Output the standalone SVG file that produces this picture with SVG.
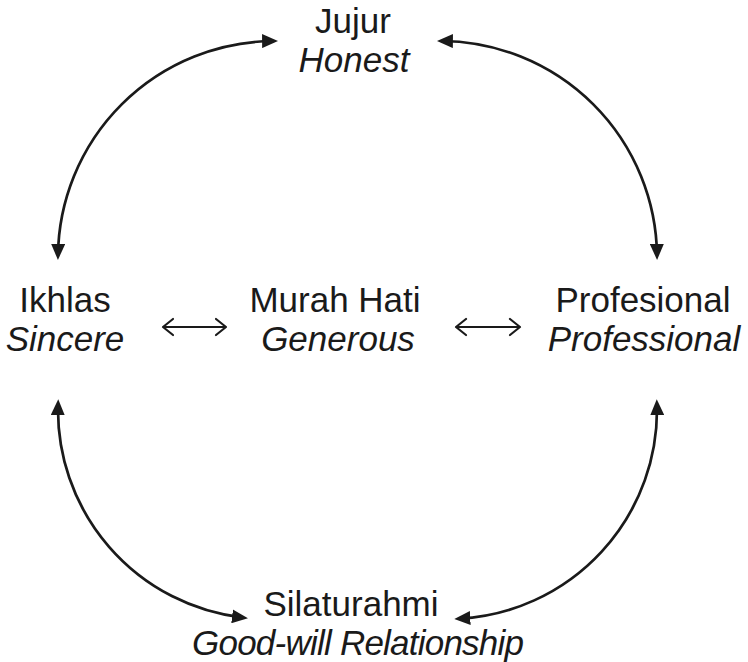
<svg xmlns="http://www.w3.org/2000/svg" width="748" height="662" viewBox="0 0 748 662">
  <style>
    .lbl { font-family: "Liberation Sans", Arial, sans-serif; font-size: 35px; fill: #1a1a1a; text-anchor: middle; }
    .it { font-style: italic; }
    .arc { fill: none; stroke: #1a1a1a; stroke-width: 2.7; marker-start: url(#ah); marker-end: url(#ah); }
    .dbl { fill: none; stroke: #1a1a1a; stroke-width: 2.2; stroke-linecap: round; stroke-linejoin: round; }
  </style>
  <defs>
    <marker id="ah" markerUnits="userSpaceOnUse" markerWidth="16" markerHeight="14" viewBox="0 0 16 14" refX="11" refY="7" orient="auto-start-reverse">
      <path d="M0,0 L16,7 L0,14 z" fill="#1a1a1a"/>
    </marker>
  </defs>
  <rect width="748" height="662" fill="#ffffff"/>

  <g id="connectors">
    <path class="arc" d="M58,255 A217,217 0 0 1 273.1,41"/>
    <path class="arc" d="M441.9,41 A217,217 0 0 1 657,255"/>
    <path class="arc" d="M656.9,404.2 A209,209 0 0 1 459.3,618.7"/>
    <path class="arc" d="M243,617.6 A209,209 0 0 1 58.1,404.2"/>
    <g id="link-ikhlas-murah">
      <path class="dbl" d="M163,327 H226 M173,319 L163,327 L173,335 M216,319 L226,327 L216,335"/>
    </g>
    <g id="link-murah-profesional">
      <path class="dbl" d="M456,327 H520 M466,319 L456,327 L466,335 M510,319 L520,327 L510,335"/>
    </g>
  </g>

  <g id="node-jujur">
    <text class="lbl" x="353" y="33">Jujur</text>
    <text class="lbl it" x="354" y="72">Honest</text>
  </g>
  <g id="node-ikhlas">
    <text class="lbl" x="65" y="312">Ikhlas</text>
    <text class="lbl it" x="65" y="351">Sincere</text>
  </g>
  <g id="node-murah-hati">
    <text class="lbl" x="335" y="312">Murah Hati</text>
    <text class="lbl it" x="338" y="351">Generous</text>
  </g>
  <g id="node-profesional">
    <text class="lbl" x="643" y="312">Profesional</text>
    <text class="lbl it" x="644" y="351">Professional</text>
  </g>
  <g id="node-silaturahmi">
    <text class="lbl" x="351" y="616">Silaturahmi</text>
    <text class="lbl it" x="358" y="655" textLength="332" lengthAdjust="spacing">Good-will Relationship</text>
  </g>
</svg>
